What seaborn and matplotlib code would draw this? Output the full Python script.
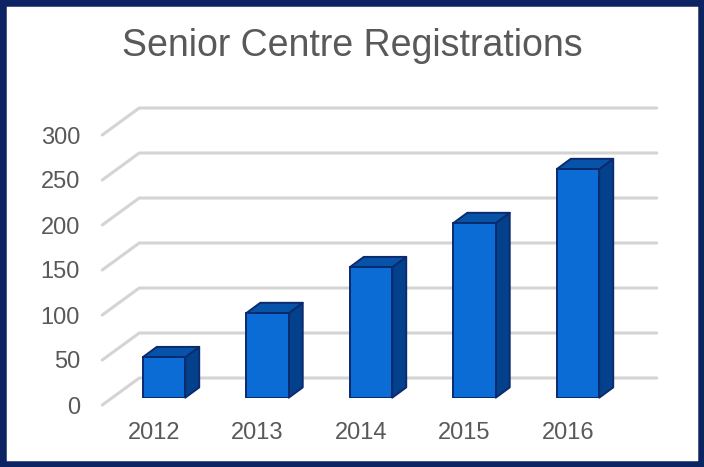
import numpy as np
import pandas as pd
import matplotlib
matplotlib.use("Agg")
import matplotlib.pyplot as plt
import matplotlib.transforms as mtransforms
from matplotlib.patches import Polygon, Rectangle
import seaborn as sns

# chart data
years = ["2012", "2013", "2014", "2015", "2016"]
registrations = [45, 94, 145, 194, 254]
y_ticks = [0, 50, 100, 150, 200, 250, 300]
title = "Senior Centre Registrations"

# colours
FRONT = "#0b6cd6"
SIDE = "#04418c"
TOP = "#0653a8"
EDGE = "#0c2a6e"
GRID = "#d4d4d4"
TEXT = "#595959"
BORDER = "#0c2461"

# 3d offsets in pixels (dx, dy): floor front edge and back wall relative to bar plane
FRONT_OFF = (-10, -7.3)
BACK_OFF = (27, 19.7)
DEPTH_OFF = (14, 10.3)

sns.set_style("white")
plt.rcParams["font.family"] = ["Liberation Sans", "DejaVu Sans"]

df = pd.DataFrame({"year": years, "count": registrations})

fig = plt.figure(figsize=(7.04, 4.67), dpi=100)
ax = fig.add_axes([112.25 / 704, 69.3 / 467, 517.5 / 704, 270 / 467])

sns.barplot(data=df, x="year", y="count", color=FRONT, saturation=1,
            edgecolor=EDGE, linewidth=1.4, width=0.41, ax=ax, zorder=5)
ax.set_xlim(-0.5, len(years) - 0.5)
ax.set_ylim(0, 300)
for s in ax.spines.values():
    s.set_visible(False)
ax.set_xlabel("")
ax.set_ylabel("")

to_disp = ax.transData.transform
to_data = ax.transData.inverted().transform


def shift(pt, off):
    d = to_disp(pt)
    return to_data((d[0] + off[0], d[1] + off[1]))


# back wall gridlines and the diagonal floor stubs
x_left, x_right = ax.get_xlim()
for v in y_ticks:
    p0 = shift((x_left, v), FRONT_OFF)
    p1 = shift((x_left, v), BACK_OFF)
    p2 = shift((x_right, v), BACK_OFF)
    ax.plot([p0[0], p1[0], p2[0]], [p0[1], p1[1], p2[1]], color=GRID,
            lw=2.2, solid_joinstyle="round", clip_on=False, zorder=1)

# extrude bars: top and side faces
for bar in ax.patches[:len(years)]:
    x0, y0 = bar.get_x(), bar.get_y()
    x1, y1 = x0 + bar.get_width(), y0 + bar.get_height()
    top = [(x0, y1), (x1, y1), shift((x1, y1), DEPTH_OFF), shift((x0, y1), DEPTH_OFF)]
    side = [(x1, y0), (x1, y1), shift((x1, y1), DEPTH_OFF), shift((x1, y0), DEPTH_OFF)]
    for pts, col in ((side, SIDE), (top, TOP)):
        ax.add_patch(Polygon(pts, closed=True, facecolor=col, edgecolor=EDGE,
                             lw=1.4, joinstyle="round", clip_on=False, zorder=4))

# ticks, placed on the front edge of the floor
ax.set_yticks(y_ticks)
ax.tick_params(axis="both", length=0, labelsize=17, labelcolor=TEXT)
ax.tick_params(axis="y", pad=16)
ax.tick_params(axis="x", pad=12)
front_shift = mtransforms.ScaledTranslation(FRONT_OFF[0] / 100, FRONT_OFF[1] / 100,
                                            fig.dpi_scale_trans)
for lab in ax.get_xticklabels() + ax.get_yticklabels():
    lab.set_transform(lab.get_transform() + front_shift)

fig.text(0.5, (467 - 56) / 467, title, ha="center", va="baseline",
         fontsize=27, color=TEXT)

# chart frame
fig.patches.append(Rectangle((0, 0), 1, 1, transform=fig.transFigure,
                             fill=False, edgecolor=BORDER, lw=9, zorder=10))

fig.savefig("out.png", dpi=100, facecolor="white")
